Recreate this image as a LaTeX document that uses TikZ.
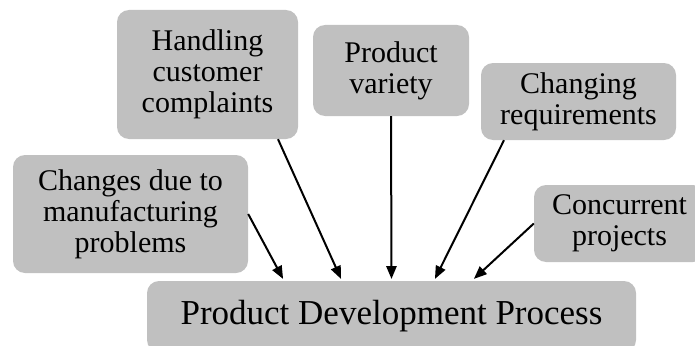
\documentclass[tikz,border=0pt]{standalone}
\usepackage{fontspec}
\setmainfont{Liberation Serif}
\usetikzlibrary{positioning}
\usetikzlibrary{arrows}
\definecolor{boxgray}{RGB}{192,192,192}
\tikzset{
  cause/.style={fill=boxgray,rounded corners=12pt,align=center,inner sep=2pt,
    font=\fontsize{30}{31}\selectfont},
  effect/.style={fill=boxgray,rounded corners=12pt,align=center,
    font=\fontsize{35}{40}\selectfont}
}

\begin{document}
\begin{tikzpicture}[>=triangle 45,x=1pt,y=-1pt]
    \useasboundingbox (0,0) rectangle (695,345);
    \node (pdp) [effect,minimum width=489pt,minimum height=71pt] at (391.5,316.5) {Product Development Process};
    \node (chg) [cause,minimum width=235pt,minimum height=118pt] at (130.5,214) {Changes due to\\manufacturing\\problems};
    \node (hand) [cause,minimum width=181pt,minimum height=129pt] at (207.5,74.5) {Handling\\customer\\complaints};
    \node (var) [cause,minimum width=156pt,minimum height=91pt] at (391,70.5) {Product\\variety};
    \node (req) [cause,minimum width=195pt,minimum height=77pt] at (578.5,101.5) {Changing\\requirements};
    \node (conc) [cause,minimum width=171pt,minimum height=77pt] at (619.5,223.5) {Concurrent\\projects};
    \draw [line width=2pt,->] (chg.east) -- ([xshift=-108.5pt,yshift=2pt]pdp.north);
    \draw [line width=2pt,->] ([xshift=70.5pt]hand.south) -- ([xshift=-50.5pt,yshift=2pt]pdp.north);
    \draw [line width=2pt,->] (var.south) -- ([yshift=2pt]pdp.north);
    \draw [line width=2pt,->] ([xshift=-74.5pt]req.south) -- ([xshift=43.5pt,yshift=2pt]pdp.north);
    \draw [line width=2pt,->] (conc.west) -- ([xshift=82.5pt,yshift=2pt]pdp.north);
\end{tikzpicture}
\end{document}
